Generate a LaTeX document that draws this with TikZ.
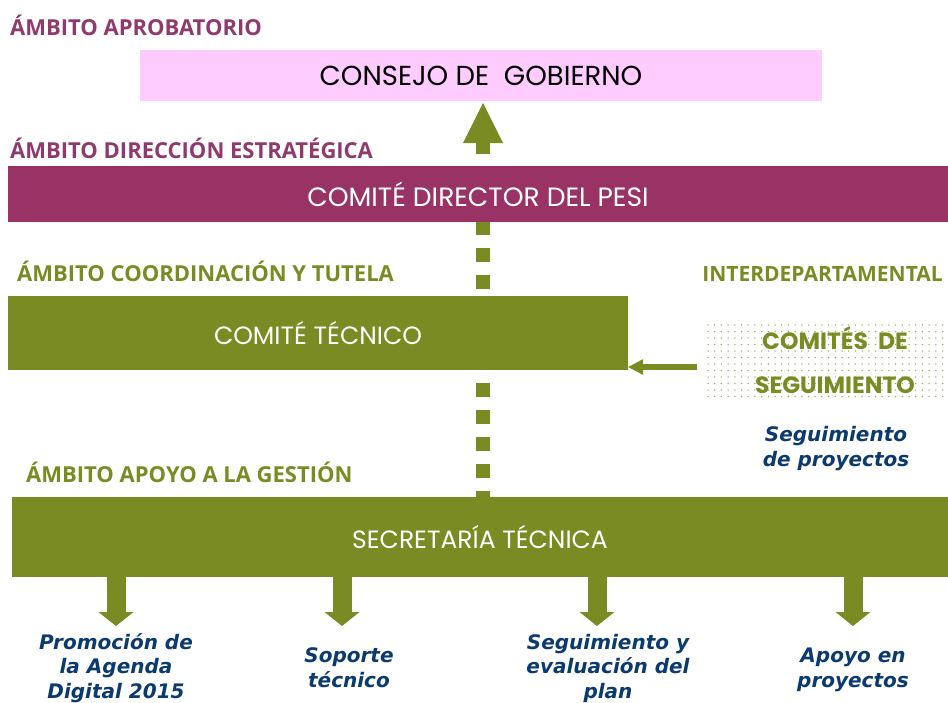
\documentclass[tikz,border=0pt]{standalone}
\usepackage{fontspec}
\setmainfont{Open Sans}
\newfontfamily\itfont{DejaVu Sans}
\newfontfamily\boxfont{Poppins}
\usetikzlibrary{arrows.meta}
\definecolor{oliv}{HTML}{7A8B23}
\definecolor{purpbox}{HTML}{993366}
\definecolor{purptext}{HTML}{8E3A6C}
\definecolor{pinkbox}{HTML}{FFCCFF}
\definecolor{navy}{HTML}{0B3A6E}
\tikzset{
  headtext/.style={font=\fontsize{22}{26}\selectfont\bfseries, inner sep=0pt, anchor=base west},
  boxnode/.style={inner sep=0pt, align=center},
  boxtext/.style={font=\boxfont\fontsize{25}{29}\selectfont},
  itlabel/.style={font=\itfont\fontsize{20}{24.5}\selectfont\bfseries\itshape, text=navy, align=center, inner sep=0pt, anchor=base},
  downarrow/.style={draw=oliv, line width=19pt, -{Triangle[width=35pt,length=14pt,line width=0pt]}},
}
\begin{document}
\begin{tikzpicture}[x=1pt,y=-1pt]
\fill[white] (0,0) rectangle (948,702);
\useasboundingbox (0,0) rectangle (948,702);

% dashed vertical arrow (behind boxes)
\coordinate (dtop) at (483,103);
\coordinate (dbot) at (483,505);
\draw[oliv, line width=14pt, dash pattern=on 14pt off 13pt, -{Triangle[width=40pt,length=40pt,line width=0pt]}] (dbot) -- (dtop);

% boxes
\node[boxnode, font=\boxfont\fontsize{27.5}{31}\selectfont, fill=pinkbox, text=black, minimum width=682pt, minimum height=51pt] (consejo) at (481,75.5) {CONSEJO DE\ \ GOBIERNO};
\node[boxnode, boxtext, font=\boxfont\fontsize{26.5}{30}\selectfont, fill=purpbox, text=white, minimum width=940pt, minimum height=56pt] (director) at (478,194) {COMITÉ DIRECTOR DEL PESI};
\node[boxnode, boxtext, fill=oliv, text=white, minimum width=620pt, minimum height=74pt] (tecnico) at (318,333) {COMITÉ TÉCNICO};
\node[boxnode, boxtext, fill=oliv, text=white, minimum width=936pt, minimum height=80pt] (secretaria) at (480,537) {SECRETARÍA TÉCNICA};

% headings
\node[headtext, text=purptext] (h1) at (10,35) {ÁMBITO APROBATORIO};
\node[headtext, text=purptext] (h2) at (10,158) {ÁMBITO DIRECCIÓN ESTRATÉGICA};
\node[headtext, text=oliv] (h3) at (17,281) {ÁMBITO COORDINACIÓN Y TUTELA};
\node[headtext, font=\fontsize{21}{26}\selectfont\bfseries, text=oliv, anchor=base east] (h4) at (943,281) {INTERDEPARTAMENTAL};
\node[headtext, text=oliv] (h5) at (26,482) {ÁMBITO APOYO A LA GESTIÓN};

% dotted box
\foreach \i in {0,...,35} {
  \foreach \j in {0,...,11} {
    \fill[oliv!75] (708+\i*6.7, 325+\j*6.5) circle (0.75pt);
  }
}
\node[boxnode, font=\boxfont\fontsize{23.5}{27}\selectfont\bfseries, text=oliv] (comites) at (835,360) {COMITÉS\ \ DE\\[17pt]SEGUIMIENTO};
\coordinate (cstart) at (697,367);
\draw[oliv, line width=6pt, -{Triangle[width=16pt,length=15pt,line width=0pt]}] (cstart) -- (tecnico.east |- cstart);

\node[itlabel] (seg) at (836,466) {Seguimiento\\de proyectos};

% bottom labels
\node[itlabel] (l1) at (116,698) {Promoción de\\la Agenda\\Digital 2015};
\node[itlabel] (l2) at (349,687) {Soporte\\técnico};
\node[itlabel] (l3) at (608,698) {Seguimiento y\\evaluación del\\plan};
\node[itlabel] (l4) at (853,687) {Apoyo en\\proyectos};

% bottom arrows
\foreach \x/\n in {116/1,342/2,597/3,853/4} {
  \coordinate (a\n) at (\x,577);
  \coordinate (b\n) at (\x,626);
}
\draw[downarrow] (a1) -- (b1);
\draw[downarrow] (a2) -- (b2);
\draw[downarrow] (a3) -- (b3);
\draw[downarrow] (a4) -- (b4);
\end{tikzpicture}
\end{document}
